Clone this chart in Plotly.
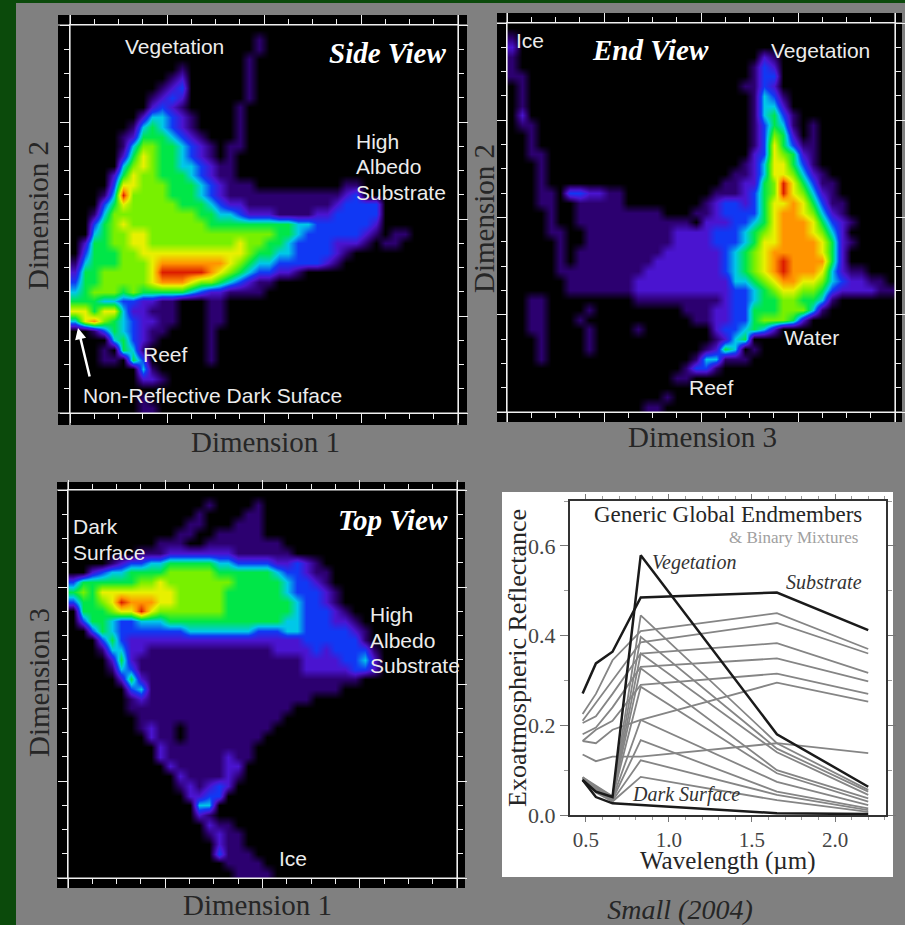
import plotly.graph_objects as go

W, H = 905, 925

SIDE_VIEW = [
"",
"0000000000 0000000001",
"0000000000 0000000001",
"0000000000 0000000010",
"0000000000 0100000010",
"0000000000 1200000010",
"0000000001 2300000010",
"0000000012 3200000010",
"0000000023 2100000100",
"0000000244 3210000100",
"0000001454 3210000100",
"0000012555 4321000100",
"0000014665 5432101100",
"0000025765 5432101000",
"0000046765 5443211000",
"0000257665 5543211000",
"0000377666 5554321110 0000000011",
"0001496666 5554321111 1111111123",
"0003576666 6555432211 1111111233 33",
"0014666666 6665544322 2111122333 33",
"0035676666 6666555555 5554433333 32",
"0045667766 6666666666 6554333333 21011",
"0255667766 6666666766 5543333222 1011",
"0355566777 7777777765 5443333210",
"1455566678 8888887654 4333332100",
"2556666679 9999876543 3221000000",
"3556666678 8876654321 1",
"4566656555 5543221111",
"5554433221 1000110000",
"7757742211 1000110000",
"4786543221 1000110000",
"0013543211 0000100000",
"0000453210 0000100000",
"0001054100 0000100000",
"0001105300 0000100000",
"0000000410",
"0000000221",
"",
"0000000100",
"0000000110",
]

END_VIEW = [
"",
"1",
"2",
"1000000000 0000000000 0000002100",
"1000000000 0000000000 0000013200",
"1100000000 0000000000 0000013300",
"0100000000 0000000000 0000113200",
"0100000000 0000000000 0000014310",
"0100000000 0000000000 0000014420",
"0200000000 0000000000 0000014531",
"0110000000 0000000000 0000013541 01",
"0010000000 0000000000 0000013652 01",
"0010000000 0000000000 0000013753 11",
"0011000000 0000000000 0000023765 21",
"0001000000 0000000000 0000124775 31",
"0001000000 0000000000 0001124776 421",
"0001000000 0000000000 0011225697 5311",
"0001103322 1100000000 0111235697 6421",
"0001100111 1100000000 1233235778 75311",
"0000100111 1111110001 1233335788 76421",
"0000100111 1111111110 2223345788 875321",
"0000110011 1111111222 2333456788 87642",
"0000010011 1111111222 2333457788 887521",
"0000010111 1111112222 2234567888 88752",
"0000010111 1111122222 2234567898 88852",
"0000011111 1111222222 2234567898 8874211",
"0000001111 1112222222 2224456788 776432211",
"0000001111 1112222222 2223345677 6653222211",
"0011000000 0001111111 1123345566 5541",
"0011000010 0000000011 1223355566 641",
"0011000100 0000000001 1223356665 2",
"0011000010 0001000000 0233454200",
"0001000010 0000000000 0124500000",
"0001000010 0000000000 1254010000",
"0001000000 0000000001 4411100000",
"0000000000 0000000013 3100000000",
"0000000000 0000000110",
"",
"0000000000 0000001000",
"0000000000 0000110000",
]

TOP_VIEW = [
"",
"0000000000 0000100001",
"0000000000 0001000011",
"0000000000 0011000111",
"0000000000 0110011111",
"0000000001 1100111111 11",
"0000000111 2222222111 111",
"0000123344 5555544333 322321",
"0023445555 6666655555 5433211",
"3555555667 6666666555 5543321",
"5657777777 7666665555 55433321",
"3556798887 7666665555 55543321",
"0555677976 6666665555 555433321",
"0355433444 5555555555 5544333221",
"0035433333 3344444443 3344333332 1",
"0003532222 2222222222 2222333333 1",
"0001442211 1111111111 1222232333 31",
"0000252111 1111111111 1111222233 42",
"0000143111 1111111111 1111222223 32",
"0000025211 1111111111 1111111111",
"0000003411 1111111111 1111111100",
"0000001211 1111111111 1111100000",
"0000001111 1111111111 1110000000",
"0000000111 1111111111 1100000000",
"0000000121 1011111111 1",
"0000000021 1011111111",
"0000000002 1111111110",
"0000000002 1111112110",
"0000000000 2111112200",
"0000000000 0211112100",
"0000000000 0121232000",
"0000000000 0022330000",
"0000000000 0004400000",
"0000000000 0002100000",
"0000000000 0000211000",
"0000000000 0000121100",
"0000000000 0000021100",
"0000000000 0000031110",
"0000000000 0000001111",
"0000000000 0000000111 1",
]

BANDS = [0.48, 0.56, 0.66, 0.83, 1.65, 2.2]
SUBSTRATE = [0.271, 0.338, 0.364, 0.485, 0.496, 0.412]
VEGETATION = [0.078, 0.052, 0.040, 0.579, 0.180, 0.063]
DARK = [0.078, 0.040, 0.026, 0.022, 0.004, 0.002]
MIX_SUB_VEG = [
    [0.225, 0.270, 0.345, 0.410, 0.450, 0.370],
    [0.210, 0.250, 0.300, 0.385, 0.428, 0.360],
    [0.205, 0.220, 0.270, 0.360, 0.383, 0.317],
    [0.180, 0.195, 0.240, 0.330, 0.349, 0.298],
    [0.165, 0.190, 0.210, 0.290, 0.315, 0.270],
    [0.165, 0.160, 0.190, 0.212, 0.295, 0.253],
    [0.135, 0.120, 0.130, 0.130, 0.160, 0.138],
]
MIX_VEG_DARK = [
    [0.084, 0.065, 0.042, 0.445, 0.160, 0.056],
    [0.084, 0.063, 0.041, 0.397, 0.148, 0.052],
    [0.083, 0.062, 0.040, 0.360, 0.140, 0.045],
    [0.082, 0.060, 0.040, 0.327, 0.100, 0.037],
    [0.081, 0.058, 0.038, 0.286, 0.093, 0.030],
    [0.080, 0.056, 0.036, 0.212, 0.074, 0.022],
    [0.080, 0.054, 0.034, 0.167, 0.052, 0.015],
    [0.079, 0.052, 0.032, 0.122, 0.045, 0.011],
    [0.079, 0.050, 0.030, 0.085, 0.033, 0.007],
]

WAVE_TICKS = [0.5, 1.0, 1.5, 2.0]
REFL_TICKS = [0.0, 0.2, 0.4, 0.6]

DENSITY_SCALE = ["#000000", "#2c0070", "#4a14d0", "#1038f4", "#00c8e8",
                 "#00e648", "#78f000", "#e8f000", "#ff9400", "#dc1c00"]

SANS = "Liberation Sans"
SERIF = "Liberation Serif"
DARKTXT = "#262626"
LIGHT = "#ececec"
LABEL_PX = 21
AXIS_PX = 29
VIEW_PX = 29

def fx(p): return p / W
def fy(p): return 1 - p / H

def parse(rows):
    out = []
    for r in rows:
        s = r.replace(" ", "").ljust(40, "0")
        out.append([int(c) for c in s])
    return out

fig = go.Figure()
shapes, annos = [], []

def rect(x0, y0, x1, y1, color):
    shapes.append(dict(type="rect", xref="paper", yref="paper", x0=fx(x0), x1=fx(x1),
                       y0=fy(y1), y1=fy(y0), fillcolor=color, line_width=0, layer="below"))

def seg(x0, y0, x1, y1, color="#f0f0f0", width=1.2):
    shapes.append(dict(type="line", xref="paper", yref="paper", x0=fx(x0), x1=fx(x1),
                       y0=fy(y0), y1=fy(y1), line=dict(color=color, width=width), layer="above"))

def text(t, x, y, size, color=LIGHT, family=SANS, anchor="center", angle=0):
    annos.append(dict(text=t, x=fx(x), y=fy(y), xref="paper", yref="paper", showarrow=False,
                      xanchor=anchor, yanchor="middle", textangle=angle, borderpad=0,
                      font=dict(family=family, size=size, color=color)))

rect(0, 0, W, 3, "#0b4a0b")
rect(0, 0, 16, H, "#0b4a0b")

def density(idx, rows, box, frame):
    x0, y0, x1, y1 = frame
    bx0, by0, bx1, by1 = box
    rect(bx0, by0, bx1, by1, "#000000")
    seg(bx0, y0, bx1, y0); seg(bx0, y1, bx1, y1)
    seg(x0, by0, x0, by1); seg(x1, by0, x1, by1)
    xa, ya = f"xaxis{idx}", f"yaxis{idx}"
    axis = dict(tick0=0, dtick=10, ticks="outside", ticklen=9, tickwidth=1.2, tickcolor="#f0f0f0",
                showticklabels=False, showgrid=False, zeroline=False, mirror="allticks",
                showline=True, linecolor="#f0f0f0", linewidth=1, automargin=False,
                minor=dict(dtick=2.5, tick0=0, ticks="outside", ticklen=5, tickwidth=1.2,
                           tickcolor="#f0f0f0", showgrid=False))
    fig.update_layout({
        xa: dict(axis, domain=[fx(x0), fx(x1)], range=[0, 40], anchor=f"y{idx}"),
        ya: dict(axis, domain=[fy(y1), fy(y0)], range=[40, 0], anchor=f"x{idx}"),
    })
    fig.add_trace(go.Heatmap(
        z=parse(rows), x=[i + 0.5 for i in range(40)], y=[i + 0.5 for i in range(40)],
        xaxis=f"x{idx}", yaxis=f"y{idx}", zmin=0, zmax=9, zsmooth="best", showscale=False,
        hoverinfo="skip",
        colorscale=[[i / 9, c] for i, c in enumerate(DENSITY_SCALE)]))

density(1, SIDE_VIEW, (58, 15, 467, 425), (70, 25, 458, 413))
density(2, END_VIEW, (497, 13, 902, 422), (507, 23, 895, 412))
density(3, TOP_VIEW, (57, 482, 465, 888), (68, 490, 457, 878))

# spectra panel
rect(502, 492, 893, 877, "#ffffff")
fig.update_layout(
    xaxis4=dict(domain=[fx(570), fx(886)], range=[0.404, 2.307], anchor="y4", automargin=False,
                tickvals=WAVE_TICKS, ticktext=[f"{v:.1f}" for v in WAVE_TICKS],
                ticks="outside", ticklen=5, tickcolor="#777", mirror="allticks", showline=True,
                linecolor="#333", linewidth=2, showgrid=False, zeroline=False,
                tickfont=dict(family=SERIF, size=21, color="#444"),
                minor=dict(dtick=0.1, ticks="outside", ticklen=3, tickcolor="#999", showgrid=False)),
    yaxis4=dict(domain=[fy(815), fy(501)], range=[0, 0.7], anchor="x4", automargin=False,
                tickvals=REFL_TICKS, ticktext=[f"{v:.1f}" for v in REFL_TICKS],
                ticks="outside", ticklen=8, tickcolor="#777", mirror="allticks", showline=True,
                linecolor="#333", linewidth=2, showgrid=False, zeroline=False,
                tickfont=dict(family=SERIF, size=22, color="#444"),
                minor=dict(dtick=0.1, ticks="outside", ticklen=4, tickcolor="#999", showgrid=False)),
)
for m in MIX_VEG_DARK + MIX_SUB_VEG:
    fig.add_trace(go.Scatter(x=BANDS, y=m, xaxis="x4", yaxis="y4", mode="lines", hoverinfo="skip",
                             line=dict(color="#858585", width=1.8), showlegend=False))
for s in (SUBSTRATE, VEGETATION, DARK):
    fig.add_trace(go.Scatter(x=BANDS, y=s, xaxis="x4", yaxis="y4", mode="lines", hoverinfo="skip",
                             line=dict(color="#1a1a1a", width=2.5), showlegend=False))

# side view labels
text("Vegetation", 174, 46, LABEL_PX)
text("<b><i>Side View</i></b>", 387, 53, VIEW_PX, "#ffffff", SERIF)
for t, y in (("High", 141), ("Albedo", 167), ("Substrate", 192)):
    text(t, 355, y, LABEL_PX, anchor="left")
text("Reef", 142, 354, LABEL_PX, anchor="left")
text("Non-Reflective Dark Suface", 82, 395, LABEL_PX, anchor="left")
text("Dimension 1", 265, 442, AXIS_PX, DARKTXT, SERIF)
text("Dimension 2", 38, 216, AXIS_PX, DARKTXT, SERIF, angle=-90)
annos.append(dict(x=fx(78), y=fy(328), ax=12, ay=50, xref="paper", yref="paper",
                  axref="pixel", ayref="pixel", text="", showarrow=True, arrowhead=2, arrowsize=0.9,
                  arrowwidth=2.5, arrowcolor="#ffffff"))

# end view labels
text("Ice", 515, 41, LABEL_PX, anchor="left")
text("<b><i>End View</i></b>", 650, 50, VIEW_PX, "#ffffff", SERIF)
text("Vegetation", 820, 50, LABEL_PX)
text("Water", 811, 337, LABEL_PX)
text("Reef", 711, 388, LABEL_PX)
text("Dimension 3", 702, 437, AXIS_PX, DARKTXT, SERIF)
text("Dimension 2", 484, 219, AXIS_PX, DARKTXT, SERIF, angle=-90)

# top view labels
text("Dark", 72, 526, LABEL_PX, anchor="left")
text("Surface", 72, 552, LABEL_PX, anchor="left")
text("<b><i>Top View</i></b>", 393, 520, VIEW_PX, "#ffffff", SERIF)
for t, y in (("High", 614), ("Albedo", 640), ("Substrate", 665)):
    text(t, 369, y, LABEL_PX, anchor="left")
text("Ice", 293, 858, LABEL_PX)
text("Dimension 1", 257, 905, AXIS_PX, DARKTXT, SERIF)
text("Dimension 3", 39, 683, AXIS_PX, DARKTXT, SERIF, angle=-90)

# spectra labels
text("Generic Global Endmembers", 728, 514, 23, DARKTXT, SERIF)
text("&amp; Binary Mixtures", 793, 537, 17, "#a0a0a0", SERIF)
text("<i>Vegetation</i>", 694, 562, 20, "#333333", SERIF)
text("<i>Substrate</i>", 824, 582, 20, "#333333", SERIF)
text("<i>Dark Surface</i>", 686, 794, 20, "#333333", SERIF)
text("Exoatmospheric Reflectance", 517, 658, 26, DARKTXT, SERIF, angle=-90)
text("Wavelength (µm)", 728, 861, 25, DARKTXT, SERIF)

fig.update_layout(width=W, height=H, margin=dict(l=0, r=0, t=0, b=0), autosize=False,
                  paper_bgcolor="#808080", plot_bgcolor="rgba(0,0,0,0)", showlegend=False,
                  shapes=shapes, annotations=annos,
                  title=dict(text="<i>Small (2004)</i>", x=680 / W, y=1 - 909 / H, xanchor="center",
                             yanchor="middle", xref="paper", yref="container",
                             font=dict(family=SERIF, size=28, color=DARKTXT)))
fig.write_html("out.html", config={"displayModeBar": False},
               post_script="document.body.style.margin='0';document.documentElement.style.overflow='hidden';")
